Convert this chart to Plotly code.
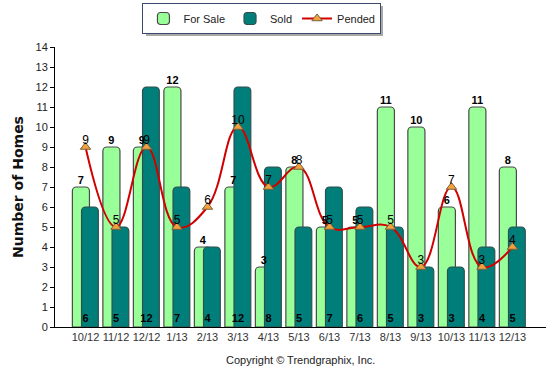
import plotly.graph_objects as go

months = ["10/12", "11/12", "12/12", "1/13", "2/13", "3/13", "4/13", "5/13",
          "6/13", "7/13", "8/13", "9/13", "10/13", "11/13", "12/13"]
for_sale = [7, 9, 9, 12, 4, 7, 3, 8, 5, 5, 11, 10, 6, 11, 8]
sold = [6, 5, 12, 7, 4, 12, 8, 5, 7, 6, 5, 3, 3, 4, 5]
pended = [9, 5, 9, 5, 6, 10, 7, 8, 5, 5, 5, 3, 7, 3, 4]
y_ticks = list(range(0, 15))

xs = list(range(len(months)))
FONT = "Liberation Sans, Arial, sans-serif"

fig = go.Figure()
fig.add_trace(go.Bar(
    x=xs, y=for_sale, name="For Sale", offset=-0.43, width=0.56,
    marker=dict(color="#99FF99", line=dict(color="#4a4a4a", width=1.2)),
))
fig.add_trace(go.Bar(
    x=xs, y=sold, name="Sold", offset=-0.13, width=0.55,
    marker=dict(color="#007F7A", line=dict(color="#2f4f4f", width=1.2)),
))
fig.add_trace(go.Scatter(
    x=xs, y=pended, name="Pended", mode="lines+markers",
    line=dict(color="#D00000", width=2, shape="spline", smoothing=1.2),
    marker=dict(symbol="triangle-up", size=9, color="#F2A23A",
                line=dict(color="#7a6040", width=1)),
))
# labels
fig.add_trace(go.Scatter(
    x=[i - 0.15 for i in xs], y=for_sale, mode="text",
    text=[f"<b>{v}</b>" for v in for_sale], textposition="top center",
    textfont=dict(family=FONT, size=11, color="black"),
    showlegend=False, hoverinfo="skip", cliponaxis=False,
))
fig.add_trace(go.Scatter(
    x=xs, y=[0.4] * len(xs), mode="text",
    text=[f"<b>{v}</b>" for v in sold], textposition="middle center",
    textfont=dict(family=FONT, size=11, color="black"),
    showlegend=False, hoverinfo="skip",
))
fig.add_trace(go.Scatter(
    x=xs, y=pended, mode="text",
    text=[str(v) for v in pended], textposition="top center",
    textfont=dict(family=FONT, size=12, color="black"),
    showlegend=False, hoverinfo="skip", cliponaxis=False,
))

PL, PT, PW, PH = 55, 47, 491, 280  # plot area in px


def px_x(v):
    return (v - PL) / PW


def px_y(v):
    return (PT + PH - v) / PH


fig.update_layout(
    width=548, height=373,
    margin=dict(l=PL, r=548 - PL - PW, t=PT, b=373 - PT - PH, autoexpand=False),
    barmode="overlay", barcornerradius=4,
    paper_bgcolor="white", plot_bgcolor="white",
    font=dict(family=FONT, size=11, color="#222"),
    legend=dict(
        orientation="h", xref="container", yref="container",
        x=0.478, y=0.992, xanchor="center", yanchor="top",
        bordercolor="#3a4a6a", borderwidth=1, bgcolor="white",
        font=dict(family=FONT, size=11, color="#222"),
        itemwidth=30, tracegroupgap=0,
    ),
    shapes=[dict(
        type="rect", xref="paper", yref="paper", layer="above",
        x0=px_x(146), x1=px_x(383), y0=px_y(36), y1=px_y(6),
        fillcolor="#a8a8a8", line=dict(width=0),
    )],
    xaxis=dict(
        range=[-1, 15.1], tickvals=xs, ticktext=months,
        showline=True, linecolor="black", linewidth=1,
        ticks="", showgrid=False, zeroline=False, automargin=False,
        tickfont=dict(family=FONT, size=11, color="#333"),
    ),
    yaxis=dict(
        range=[0, 14], tickvals=y_ticks,
        showline=True, linecolor="black", linewidth=1,
        ticks="outside", ticklen=4, tickcolor="black",
        showgrid=False, zeroline=False, automargin=False,
        tickfont=dict(family=FONT, size=11, color="#222"),
        title=dict(text="<b>Number of Homes</b>", standoff=8,
                   font=dict(family="DejaVu Sans, sans-serif", size=14, color="#111")),
    ),
    annotations=[dict(
        text="Copyright © Trendgraphix, Inc.", xref="paper", yref="paper",
        x=0.5, y=0, yshift=-33, xanchor="center", yanchor="middle",
        showarrow=False, font=dict(family=FONT, size=11, color="#222"),
    )],
)

fig.write_html("out.html", config={"displayModeBar": False},
               post_script="document.body.style.margin='0';")
